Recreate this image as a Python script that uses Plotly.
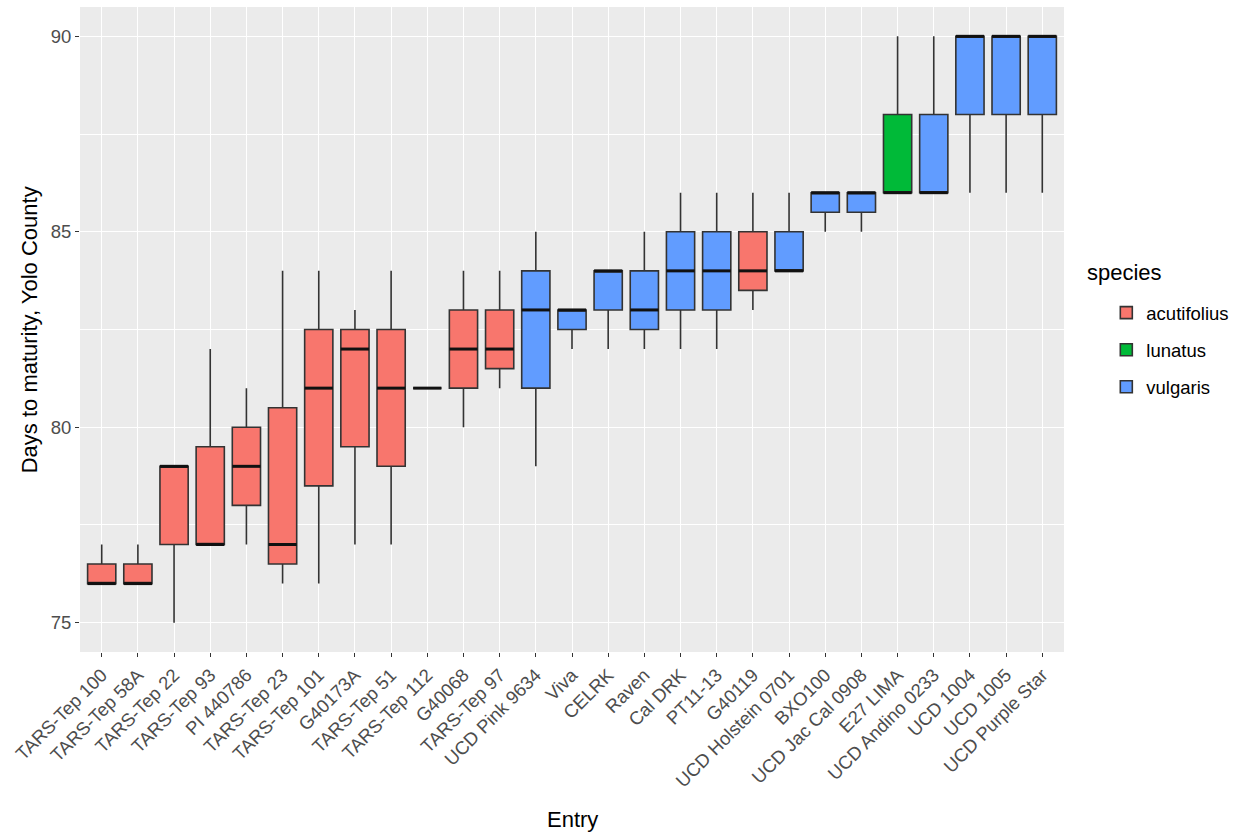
import plotly.graph_objects as go

entries = ["TARS-Tep 100", "TARS-Tep 58A", "TARS-Tep 22", "TARS-Tep 93", "PI 440786",
           "TARS-Tep 23", "TARS-Tep 101", "G40173A", "TARS-Tep 51", "TARS-Tep 112",
           "G40068", "TARS-Tep 97", "UCD Pink 9634", "Viva", "CELRK", "Raven",
           "Cal DRK", "PT11-13", "G40119", "UCD Holstein 0701", "BXO100",
           "UCD Jac Cal 0908", "E27 LIMA", "UCD Andino 0233", "UCD 1004",
           "UCD 1005", "UCD Purple Star"]
species = ["acutifolius"] * 12 + ["vulgaris"] * 6 + ["acutifolius"] + ["vulgaris"] * 3 + \
          ["lunatus"] + ["vulgaris"] * 4
lower = [76, 76, 75, 77, 77, 76, 76, 77, 77, 81, 80, 81, 79, 82, 82, 82, 82, 82, 83, 84,
         85, 85, 86, 86, 86, 86, 86]
q1 = [76, 76, 77, 77, 78, 76.5, 78.5, 79.5, 79, 81, 81, 81.5, 81, 82.5, 83, 82.5, 83, 83,
      83.5, 84, 85.5, 85.5, 86, 86, 88, 88, 88]
median = [76, 76, 79, 77, 79, 77, 81, 82, 81, 81, 82, 82, 83, 83, 84, 83, 84, 84, 84, 84,
          86, 86, 86, 86, 90, 90, 90]
q3 = [76.5, 76.5, 79, 79.5, 80, 80.5, 82.5, 82.5, 82.5, 81, 83, 83, 84, 83, 84, 84, 85, 85,
      85, 85, 86, 86, 88, 88, 90, 90, 90]
upper = [77, 77, 79, 82, 81, 84, 84, 83, 84, 81, 84, 84, 85, 83, 84, 85, 86, 86, 86, 86,
         86, 86, 90, 90, 90, 90, 90]
y_ticks = [75, 80, 85, 90]
y_minor = [77.5, 82.5, 87.5]

species_order = ["acutifolius", "lunatus", "vulgaris"]
colors = {"acutifolius": "#F8766D", "lunatus": "#00BA38", "vulgaris": "#619CFF"}

BOX_W = 0.78
fig = go.Figure()
for sp in species_order:
    idx = [i for i, s in enumerate(species) if s == sp]
    fig.add_trace(go.Box(
        name=sp, legendgroup=sp,
        x=idx,
        q1=[q1[i] for i in idx], median=[median[i] for i in idx],
        q3=[q3[i] for i in idx], lowerfence=[lower[i] for i in idx],
        upperfence=[upper[i] for i in idx],
        fillcolor=colors[sp], line=dict(color="#333333", width=1.6),
        whiskerwidth=0, width=BOX_W, boxpoints=False,
        hovertext=[entries[i] for i in idx],
    ))

# thicker median lines (ggplot style)
mx, my = [], []
for i, m in enumerate(median):
    mx += [i - BOX_W / 2, i + BOX_W / 2, None]
    my += [m, m, None]
fig.add_trace(go.Scatter(x=mx, y=my, mode="lines", line=dict(color="#111111", width=3),
                         showlegend=False, hoverinfo="skip"))

font = "Liberation Sans, Arial, sans-serif"
fig.update_layout(
    width=1247, height=837,
    margin=dict(l=80, r=183, t=7, b=185, autoexpand=False),
    paper_bgcolor="white", plot_bgcolor="#EBEBEB",
    font=dict(family=font, color="#000000"),
    boxmode="overlay",
    showlegend=True,
    legend=dict(font=dict(size=18.5, color="#000000"),
                x=1.043, xanchor="left", y=0.468, yanchor="middle",
                tracegroupgap=10, bgcolor="white"),
    xaxis=dict(
        range=[-0.6, len(entries) - 0.4],
        tickmode="array", tickvals=list(range(len(entries))), ticktext=entries,
        tickangle=-45, tickfont=dict(size=18.5, color="#4D4D4D"),
        ticks="outside", ticklen=4, tickcolor="#333333",
        showgrid=True, gridcolor="white", gridwidth=1.2,
        zeroline=False, showline=False, automargin=False,
    ),
    yaxis=dict(
        range=[74.25, 90.75],
        tickmode="array", tickvals=y_ticks,
        tickfont=dict(size=18.5, color="#4D4D4D"),
        ticks="outside", ticklen=4, tickcolor="#333333",
        showgrid=True, gridcolor="white", gridwidth=1.2,
        minor=dict(tickmode="array", tickvals=y_minor, showgrid=True,
                   gridcolor="white", gridwidth=0.6, ticks=""),
        zeroline=False, showline=False, automargin=False,
    ),
    annotations=[
        dict(text="Entry", xref="paper", yref="paper", x=0.5, y=-0.26,
             xanchor="center", yanchor="middle", showarrow=False,
             font=dict(size=22, color="#000000")),
        dict(text="Days to maturity, Yolo County", xref="paper", yref="paper",
             x=-0.051, y=0.5, xanchor="center", yanchor="middle", textangle=-90,
             showarrow=False, font=dict(size=22, color="#000000")),
        dict(text="species", xref="paper", yref="paper", x=1.021, y=0.589,
             xanchor="left", yanchor="middle", showarrow=False,
             font=dict(size=22, color="#000000")),
    ],
)
fig.write_html("out.html", config={"displayModeBar": False},
               post_script="document.body.style.margin='0px';")
